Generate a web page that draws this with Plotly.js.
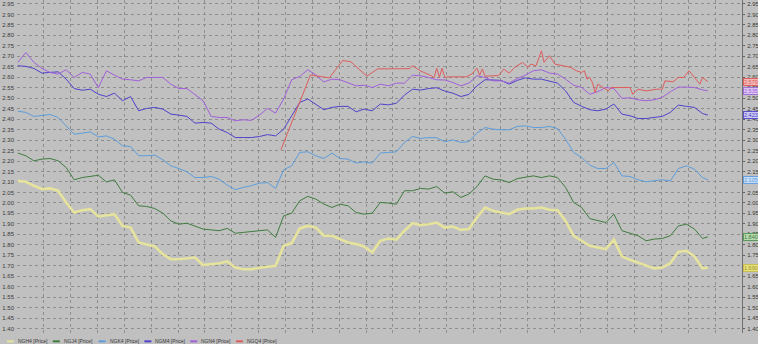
<!DOCTYPE html>
<html>
<head>
<meta charset="utf-8">
<script src="https://cdn.plot.ly/plotly-3.0.1.min.js"></script>
<style>
html,body{margin:0;padding:0;background:#c0c0c0;overflow:hidden;}
#chart{width:758px;height:344px;}
</style>
</head>
<body>
<div id="chart"></div>
<script>
// trading-day index shared by the daily series (every 3rd day sampled, plus the last day)
const days = [];
for (let k = 0; k <= 85; k++) days.push(k * 3);
days.push(257);

const seriesNames = ["NGH4 [Price]", "NGJ4 [Price]", "NGK4 [Price]", "NGM4 [Price]", "NGN4 [Price]", "NGQ4 [Price]"];
const seriesColors = ["#e6e39c", "#3f7c3f", "#5d9ddc", "#4f42cc", "#a15fdc", "#e05c5c"];
const lastLabels = ["1.690", "1.840", "2.105", "2.423", "2.535", "2.579"];

const ngh4 = [2.105, 2.101, 2.082, 2.066, 2.069, 2.058, 2.002, 1.954, 1.965, 1.970, 1.935, 1.941, 1.946, 1.890, 1.882, 1.811, 1.803, 1.792, 1.755, 1.731, 1.731, 1.734, 1.739, 1.703,
  1.707, 1.712, 1.720, 1.691, 1.683, 1.683, 1.690, 1.696, 1.699, 1.795, 1.808, 1.878, 1.890, 1.882, 1.843, 1.843, 1.827, 1.811, 1.803, 1.792, 1.763, 1.819,
  1.830, 1.824, 1.867, 1.903, 1.894, 1.898, 1.906, 1.882, 1.887, 1.871, 1.875, 1.930, 1.978, 1.962, 1.954, 1.946, 1.967, 1.973, 1.973, 1.978, 1.967, 1.965, 1.914,
  1.843, 1.819, 1.795, 1.787, 1.779, 1.824, 1.744, 1.728, 1.715, 1.703, 1.687, 1.691, 1.712, 1.766, 1.771, 1.744, 1.687, 1.691];

const ngj4 = [2.238, 2.225, 2.201, 2.209, 2.212, 2.201, 2.169, 2.110, 2.121, 2.126, 2.132, 2.100, 2.110, 2.050, 2.037, 1.986, 1.983, 1.973, 1.951, 1.914, 1.898, 1.903, 1.890, 1.875,
  1.871, 1.867, 1.878, 1.855, 1.859, 1.862, 1.867, 1.871, 1.835, 1.938, 1.951, 2.010, 2.031, 2.018, 1.994, 1.978, 1.994, 1.986, 1.954, 1.946, 1.951, 2.002,
  1.999, 1.994, 2.058, 2.058, 2.069, 2.066, 2.078, 2.047, 2.053, 2.026, 2.042, 2.078, 2.129, 2.113, 2.110, 2.097, 2.116, 2.121, 2.129, 2.121, 2.129, 2.121, 2.074,
  2.002, 1.978, 1.925, 1.914, 1.906, 1.946, 1.867, 1.855, 1.843, 1.819, 1.827, 1.830, 1.843, 1.890, 1.898, 1.875, 1.830, 1.838];

const ngk4 = [2.438, 2.432, 2.413, 2.419, 2.422, 2.408, 2.368, 2.328, 2.333, 2.339, 2.315, 2.320, 2.304, 2.273, 2.269, 2.225, 2.225, 2.228, 2.206, 2.177, 2.164, 2.148, 2.121, 2.121,
  2.126, 2.113, 2.085, 2.063, 2.074, 2.082, 2.094, 2.097, 2.069, 2.158, 2.177, 2.241, 2.244, 2.225, 2.212, 2.238, 2.212, 2.209, 2.190, 2.196, 2.190, 2.238,
  2.241, 2.244, 2.289, 2.317, 2.308, 2.312, 2.311, 2.292, 2.301, 2.289, 2.292, 2.333, 2.360, 2.352, 2.349, 2.349, 2.365, 2.368, 2.360, 2.360, 2.365, 2.355, 2.304,
  2.241, 2.217, 2.180, 2.164, 2.164, 2.193, 2.129, 2.126, 2.110, 2.101, 2.105, 2.110, 2.105, 2.164, 2.177, 2.161, 2.121, 2.110];

const ngm4 = [2.655, 2.652, 2.642, 2.620, 2.623, 2.626, 2.591, 2.546, 2.538, 2.543, 2.519, 2.508, 2.524, 2.488, 2.508, 2.440, 2.451, 2.456, 2.448, 2.424, 2.419, 2.413, 2.381, 2.384,
  2.381, 2.352, 2.336, 2.312, 2.312, 2.312, 2.317, 2.326, 2.320, 2.352, 2.416, 2.480, 2.496, 2.472, 2.445, 2.456, 2.461, 2.461, 2.435, 2.448, 2.440, 2.472,
  2.468, 2.476, 2.515, 2.543, 2.539, 2.546, 2.550, 2.534, 2.524, 2.508, 2.518, 2.559, 2.588, 2.587, 2.585, 2.567, 2.585, 2.597, 2.591, 2.591, 2.583, 2.572, 2.535,
  2.480, 2.461, 2.445, 2.440, 2.448, 2.472, 2.424, 2.416, 2.403, 2.403, 2.408, 2.413, 2.432, 2.467, 2.461, 2.456, 2.427, 2.419];

const ngn4 = [2.671, 2.718, 2.671, 2.642, 2.623, 2.615, 2.636, 2.599, 2.623, 2.615, 2.550, 2.631, 2.610, 2.591, 2.588, 2.583, 2.599, 2.599, 2.599, 2.567, 2.546, 2.546, 2.519, 2.488,
  2.413, 2.408, 2.408, 2.392, 2.397, 2.394, 2.419, 2.451, 2.429, 2.496, 2.588, 2.604, 2.636, 2.610, 2.578, 2.591, 2.588, 2.572, 2.559, 2.562, 2.551, 2.567,
  2.559, 2.572, 2.572, 2.610, 2.607, 2.599, 2.588, 2.587, 2.575, 2.559, 2.572, 2.607, 2.599, 2.583, 2.583, 2.572, 2.594, 2.610, 2.631, 2.636, 2.620, 2.615, 2.591,
  2.562, 2.551, 2.519, 2.531, 2.551, 2.546, 2.499, 2.502, 2.492, 2.488, 2.492, 2.504, 2.531, 2.553, 2.553, 2.551, 2.540, 2.535];

// NGQ4 trades only from day 98 on, with sparse early prints
const ngq4Days = [98, 109, 116, 121, 124, 130, 134, 146, 147, 150, 154, 155, 156, 157, 158, 159, 161, 167, 169, 171, 172, 173, 174, 179, 181, 183, 185, 188, 190, 191,
  193, 194, 195, 196, 198, 200, 203, 206, 208, 210, 211, 212, 213, 214, 215, 216, 218, 220, 221, 228, 229, 231, 234, 238, 240, 241, 244, 246, 248, 250, 252, 254, 255, 256, 257];
const ngq4 = [2.254, 2.611, 2.597, 2.680, 2.674, 2.605, 2.640, 2.641, 2.655, 2.630, 2.607, 2.598, 2.643, 2.600, 2.643, 2.600, 2.602, 2.602, 2.615, 2.643, 2.610, 2.640, 2.605, 2.608, 2.639, 2.620, 2.647, 2.671, 2.647, 2.663,
  2.655, 2.687, 2.726, 2.671, 2.703, 2.663, 2.655, 2.647, 2.631, 2.623, 2.631, 2.591, 2.599, 2.575, 2.527, 2.567, 2.551, 2.535, 2.551, 2.551, 2.519, 2.543, 2.535, 2.543, 2.543, 2.583, 2.578, 2.599, 2.599, 2.631, 2.599, 2.567, 2.599, 2.591, 2.579];

const ys = [ngh4, ngj4, ngk4, ngm4, ngn4, ngq4];
const xs = [days, days, days, days, days, ngq4Days];
const widths = [2.6, 1, 1, 1, 1, 1];

const traces = ys.map((y, i) => ({
  type: 'scatter', mode: 'lines', x: xs[i], y: y, name: seriesNames[i],
  line: {color: seriesColors[i], width: widths[i]}, hoverinfo: 'skip'
}));
// invisible trace to bind right axis
traces.push({type: 'scatter', mode: 'lines', x: [0], y: [2], yaxis: 'y2', showlegend: false, line: {width: 0}, hoverinfo: 'skip'});

const yr = [1.3785, 2.969];
const fam = 'Liberation Sans, Arial, sans-serif';
const tickFont = {family: fam, size: 6, color: '#3a3a3a'};

const boxBg = ["#e6e07a", "#b8d8b0", "#c4dcf4", "#c8c8f0", "#dcc4f0", "#f0b8b8"];
const boxBorder = ["#c8c050", "#5a9a5a", "#6aa0e0", "#5a50d0", "#a070d8", "#e06060"];
const annotations = [];
for (let i = 0; i < 6; i++) {
  annotations.push({
    xref: 'paper', yref: 'y', x: 1, y: ys[i][ys[i].length - 1], xanchor: 'left', yanchor: 'middle', xshift: 1,
    text: lastLabels[i], showarrow: false,
    font: {family: fam, size: 5.5, color: i === 0 ? '#9a9430' : seriesColors[i]},
    bgcolor: boxBg[i], bordercolor: boxBorder[i], borderwidth: 1, borderpad: 0
  });
}
// legend (hand-placed to match the original compact legend row)
const shapes = [];
const plotLeft = 17, plotW = 725;
for (let i = 0; i < 6; i++) {
  const sx = 7 + 45.8 * i;
  shapes.push({type: 'line', xref: 'paper', yref: 'paper',
    x0: (sx - plotLeft) / plotW, x1: (sx + 7 - plotLeft) / plotW, y0: -0.025, y1: -0.025,
    line: {color: seriesColors[i], width: 2}});
  annotations.push({xref: 'paper', yref: 'paper', x: (sx + 9 - plotLeft) / plotW, y: -0.025,
    xanchor: 'left', yanchor: 'middle', text: seriesNames[i], showarrow: false,
    font: {family: fam, size: 5, color: '#3a3a3a'}});
}

const layout = {
  width: 758, height: 344,
  margin: {l: 17, r: 16, t: 0, b: 11, pad: 0},
  paper_bgcolor: '#c0c0c0', plot_bgcolor: '#c0c0c0',
  showlegend: false,
  xaxis: {range: [-0.3, 269.7], tick0: -0.3, dtick: 10, showticklabels: false, ticks: '',
    showgrid: true, gridcolor: '#8e8e8e', griddash: 'dot', gridwidth: 1, zeroline: false, showline: false, fixedrange: true},
  yaxis: {range: yr, tick0: 1.40, dtick: 0.05, tickformat: '.2f', tickfont: tickFont, ticks: '', ticklabelstandoff: 2,
    showgrid: true, gridcolor: '#8e8e8e', griddash: 'dot', gridwidth: 1, zeroline: false, showline: false, automargin: false},
  yaxis2: {range: yr, overlaying: 'y', side: 'right', tick0: 1.40, dtick: 0.05, tickformat: '.2f', tickfont: tickFont,
    ticks: 'outside', ticklen: 2, tickcolor: '#606060', ticklabelstandoff: 1, showgrid: false, zeroline: false,
    showline: true, linecolor: '#707070', linewidth: 1, automargin: false},
  annotations: annotations,
  shapes: shapes
};

Plotly.newPlot('chart', traces, layout, {staticPlot: true, displayModeBar: false});
</script>
</body>
</html>
